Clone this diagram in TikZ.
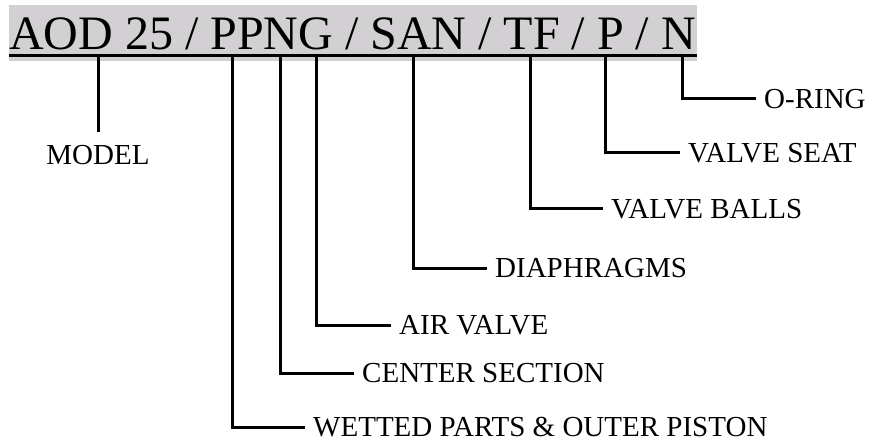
\documentclass[tikz,border=0pt]{standalone}
\usepackage{fontspec}
\setmainfont{Liberation Serif}
\definecolor{bandgray}{RGB}{210,208,210}
\begin{document}
\begin{tikzpicture}[x=1pt,y=-1pt,
  lead/.style={line width=3pt,line join=miter,line cap=butt},
  lbl/.style={font=\fontsize{29}{34}\selectfont,inner ysep=0pt,inner xsep=8pt,anchor=west},
  ttl/.style={font=\fontsize{48}{56}\selectfont,inner sep=0pt,anchor=base west}]
\useasboundingbox (0,0) rectangle (869,446);
\fill[bandgray] (9,5) rectangle (697,61);
\node[ttl] (title) at (9,50) {AOD 25 / PPNG / SAN / TF / P / N};
\draw[line width=3pt] (9,56) -- (697,56);
% tap points on the underline
\coordinate (tModel) at (98,56);
\coordinate (tWet) at (232,56);
\coordinate (tCen) at (280,56);
\coordinate (tAir) at (316,56);
\coordinate (tDia) at (413,56);
\coordinate (tBal) at (530,56);
\coordinate (tSeat) at (605,56);
\coordinate (tOr) at (682,56);
% labels
\node[lbl,anchor=center,inner xsep=0pt] (model) at (98,155.5) {MODEL};
\node[lbl] (oring) at (756,99) {O-RING};
\node[lbl] (seat) at (680,153) {VALVE SEAT};
\node[lbl] (balls) at (603,209) {VALVE BALLS};
\node[lbl] (dia) at (487,268) {DIAPHRAGMS};
\node[lbl] (air) at (391,325) {AIR VALVE};
\node[lbl] (cen) at (354,373) {CENTER SECTION};
\node[lbl] (wet) at (305,427) {WETTED PARTS \& OUTER PISTON};
% leaders
\draw[lead] (tModel) -- (98,132);
\draw[lead] (tOr) |- (oring.west);
\draw[lead] (tSeat) |- (seat.west);
\draw[lead] (tBal) |- (balls.west);
\draw[lead] (tDia) |- (dia.west);
\draw[lead] (tAir) |- (air.west);
\draw[lead] (tCen) |- (cen.west);
\draw[lead] (tWet) |- (wet.west);
\end{tikzpicture}
\end{document}
